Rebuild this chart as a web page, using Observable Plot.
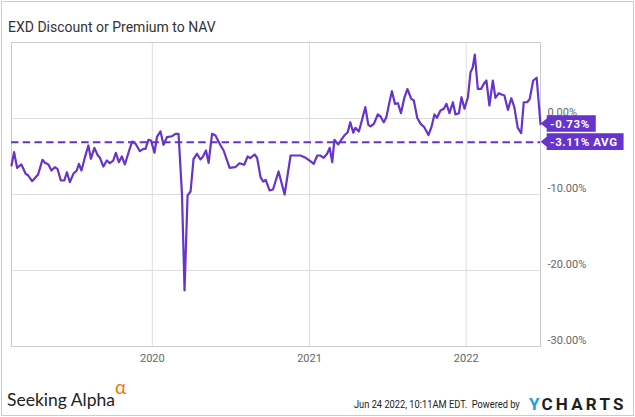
<!DOCTYPE html>
<html><head><meta charset="utf-8">
<script src="https://cdn.jsdelivr.net/npm/d3@7"></script>
<script src="https://cdn.jsdelivr.net/npm/@observablehq/plot@0.6"></script>
<style>
html,body{margin:0;padding:0;background:#fff;}
#wrap{position:relative;width:635px;height:417px;overflow:hidden;}
</style></head><body><div id="wrap"></div>
<script>
const chartTitle = "EXD Discount or Premium to NAV";
const dates = [
"2019-02-07","2019-02-13","2019-02-20","2019-03-02","2019-03-12","2019-03-18","2019-03-27","2019-04-10","2019-04-20","2019-04-26",
"2019-05-04","2019-05-11","2019-05-19","2019-05-25","2019-06-02","2019-06-10","2019-06-16","2019-06-23","2019-07-01","2019-07-09",
"2019-07-14","2019-07-20","2019-07-28","2019-08-05","2019-08-11","2019-08-19","2019-08-27","2019-09-01","2019-09-09","2019-09-17",
"2019-09-24","2019-10-02","2019-10-08","2019-10-15","2019-10-22","2019-10-29","2019-11-08","2019-11-15","2019-11-23","2019-12-03",
"2019-12-11","2019-12-16","2019-12-23","2019-12-29",
"2020-01-06","2020-01-12","2020-01-20","2020-01-27","2020-02-04","2020-02-16","2020-02-24","2020-03-02","2020-03-10","2020-03-16",
"2020-03-23","2020-03-30","2020-04-06","2020-04-14","2020-04-22","2020-04-28","2020-05-05","2020-05-11","2020-05-19","2020-05-27",
"2020-06-07","2020-06-15","2020-06-29","2020-07-12","2020-07-22","2020-08-02","2020-08-10","2020-08-16","2020-08-26","2020-09-01",
"2020-09-09","2020-09-15","2020-09-21","2020-09-30","2020-10-08","2020-10-21","2020-11-04","2020-11-18","2020-11-29","2020-12-11",
"2020-12-23",
"2021-01-03","2021-01-11","2021-01-19","2021-01-26","2021-02-03","2021-02-11","2021-02-17","2021-02-23","2021-02-28","2021-03-09",
"2021-03-16","2021-03-23","2021-03-31","2021-04-06","2021-04-13","2021-04-18","2021-04-26","2021-05-04","2021-05-11","2021-05-18",
"2021-05-23","2021-05-31","2021-06-09","2021-06-15","2021-06-23","2021-06-29","2021-07-07","2021-07-12","2021-07-19","2021-07-26",
"2021-08-02","2021-08-10","2021-08-17","2021-08-26","2021-09-01","2021-09-09","2021-09-17","2021-09-25","2021-10-05","2021-10-12",
"2021-10-19","2021-10-25","2021-11-02","2021-11-10","2021-11-16","2021-11-23","2021-12-01","2021-12-07","2021-12-15","2021-12-21",
"2021-12-28",
"2022-01-05","2022-01-11","2022-01-16","2022-01-21","2022-01-28","2022-02-05","2022-02-11","2022-02-17","2022-02-24","2022-03-04",
"2022-03-10","2022-03-18","2022-03-26","2022-03-31","2022-04-08","2022-04-16","2022-04-23","2022-05-01","2022-05-09","2022-05-15",
"2022-05-23","2022-05-29","2022-06-06","2022-06-14","2022-06-23"
];
const values = [
-6.18,-4.43,-6.49,-6.05,-7.28,-7.50,-8.25,-7.37,-5.43,-5.83,
-6.05,-6.84,-6.41,-6.62,-8.16,-8.16,-7.07,-8.38,-7.28,-6.84,
-5.96,-6.84,-5.09,-3.55,-5.30,-3.86,-4.87,-5.17,-6.32,-5.53,
-5.88,-5.53,-4.51,-5.75,-5.00,-6.05,-4.21,-3.03,-3.33,-4.30,
-3.99,-3.99,-2.80,-2.89,
-4.51,-2.37,-1.71,-3.46,-2.46,-2.33,-2.01,-2.01,-9.91,-22.63,
-10.13,-9.61,-5.30,-4.64,-5.39,-5.00,-4.21,-5.83,-2.01,-2.24,
-3.46,-4.21,-6.49,-6.41,-5.88,-6.09,-5.00,-5.22,-4.74,-5.17,
-7.72,-8.29,-8.07,-9.47,-9.34,-6.97,-10.00,-4.87,-4.87,-4.87,
-5.17,
-5.62,-5.96,-4.87,-4.87,-5.17,-4.64,-3.86,-5.75,-2.80,-3.42,
-2.80,-2.24,-1.80,-0.49,-1.88,-1.22,-1.71,-0.04,1.49,-0.83,
-1.05,-0.70,0.53,0.30,-0.49,0.17,2.37,3.59,1.93,2.01,
0.70,2.76,3.88,2.59,2.37,0.07,-0.70,-1.12,-2.17,-1.14,
0.53,0.09,1.05,1.28,1.93,0.70,2.14,0.53,0.70,2.80,
1.28,
2.80,6.09,6.67,8.42,3.91,3.91,4.57,5.00,1.71,5.00,
2.72,3.33,3.12,3.03,1.14,2.67,1.49,-1.22,-1.93,2.14,
2.14,2.59,5.00,5.36,-0.73
];
const averageValue = -3.11;
const yTicks = [0, -10, -20, -30];
const yGrid = [0, -10, -20];
const yDomain = [-30, 10];
const footerLeft = "Seeking Alpha";
const footerAlpha = "\u03B1";
const footerStamp = "Jun 24 2022, 10:11AM EDT.\u00A0 Powered by";
const logoY = "Y";
const logoRest = "CHARTS";
const purple = "#6633cc";

const data = dates.map((d, i) => ({date: new Date(d), value: values[i]}));

const chart = Plot.plot({
  width: 635, height: 417,
  marginLeft: 11, marginRight: 95, marginTop: 42, marginBottom: 71,
  style: {fontFamily: "Roboto, sans-serif", fontSize: "11px", background: "transparent", overflow: "visible"},
  x: {type: "utc", domain: [data[0].date, data[data.length - 1].date], label: null},
  y: {domain: yDomain, label: null},
  marks: [
    Plot.gridX({ticks: "year", stroke: "#dddddd", strokeOpacity: 1}),
    Plot.gridY(yGrid, {stroke: "#dddddd", strokeOpacity: 1}),
    Plot.frame({stroke: "#cccccc"}),
    Plot.axisX({ticks: "year", tickFormat: d3.utcFormat("%Y"), tickSize: 0, tickPadding: 8, fill: "#666", fontSize: 11}),
    Plot.axisY(yTicks, {anchor: "right", tickSize: 0, tickPadding: 7, tickFormat: d => d.toFixed(2) + "%", fill: "#666", fontSize: 11, dy: -6.5, textAnchor: "start"}),
    Plot.ruleY([averageValue], {stroke: purple, strokeWidth: 2, strokeDasharray: "7.5,4.2"}),
    Plot.line(data, {x: "date", y: "value", stroke: purple, strokeWidth: 2.2, strokeLinejoin: "round"})
  ]
});
document.getElementById("wrap").appendChild(chart);

const svg = d3.select(chart);
const ys = chart.scale("y");
const xs = chart.scale("x");
const xEnd = xs.range[1];
const lastValue = values[values.length - 1];
const tags = [
  {value: lastValue, label: lastValue.toFixed(2) + "%"},
  {value: averageValue, label: averageValue.toFixed(2) + "% AVG"}
];
tags.forEach(t => {
  const cy = ys.apply(t.value);
  const g = svg.append("g");
  const path = g.append("path").attr("fill", purple);
  const text = g.append("text")
    .attr("x", xEnd + 10).attr("y", cy).attr("dy", "0.35em")
    .attr("text-anchor", "start")
    .attr("fill", "#fff").attr("font-weight", 700).attr("font-size", 11.5)
    .attr("letter-spacing", "0.6").attr("font-family", "Roboto, sans-serif")
    .text(t.label);
  const w = text.node().getComputedTextLength();
  const x0 = xEnd + 0.7, x1 = xEnd + 6.7, x2 = xEnd + 10 + w + 6;
  path.attr("d", `M${x0},${cy}L${x1},${cy - 5}V${cy - 8.3}H${x2}V${cy + 8.3}H${x1}V${cy + 5}Z`);
});

// title
svg.append("text").attr("x", 8).attr("y", 32).attr("text-anchor", "start")
  .attr("font-family", "Roboto, sans-serif").attr("font-size", 14).attr("fill", "#333")
  .text(chartTitle);

// footer
svg.append("text").attr("x", 7).attr("y", 406).attr("text-anchor", "start")
  .attr("font-family", "Lato, sans-serif").attr("font-size", 17.5).attr("fill", "#222")
  .text(footerLeft);
svg.append("text").attr("x", 115).attr("y", 394).attr("text-anchor", "start")
  .attr("font-family", "Lato, sans-serif").attr("font-size", 19).attr("fill", "#ff7300")
  .text(footerAlpha);
const stamp = svg.append("text").attr("x", 0).attr("y", 0).attr("text-anchor", "start")
  .attr("font-family", "Roboto, sans-serif").attr("font-size", 11.5).attr("fill", "#222")
  .text(footerStamp);
const stampScale = 166 / stamp.node().getComputedTextLength();
stamp.attr("transform", `translate(354,408) scale(${stampScale},1)`);
const yText = svg.append("text").attr("x", 529).attr("y", 410).attr("text-anchor", "start")
  .attr("font-family", "Roboto, sans-serif").attr("font-size", 17).attr("font-weight", 700)
  .attr("fill", "#1a9ee0").text(logoY);
const yW = yText.node().getComputedTextLength();
svg.append("text").attr("x", 529 + yW + 2).attr("y", 410).attr("text-anchor", "start")
  .attr("font-family", "Roboto, sans-serif").attr("font-size", 17).attr("font-weight", 700)
  .attr("fill", "#1e1e1e").attr("letter-spacing", "3.2").text(logoRest);

// outer border
svg.append("rect").attr("x", 1.5).attr("y", 1.5).attr("width", 632).attr("height", 414)
  .attr("fill", "none").attr("stroke", "#cccccc");
</script></body></html>
